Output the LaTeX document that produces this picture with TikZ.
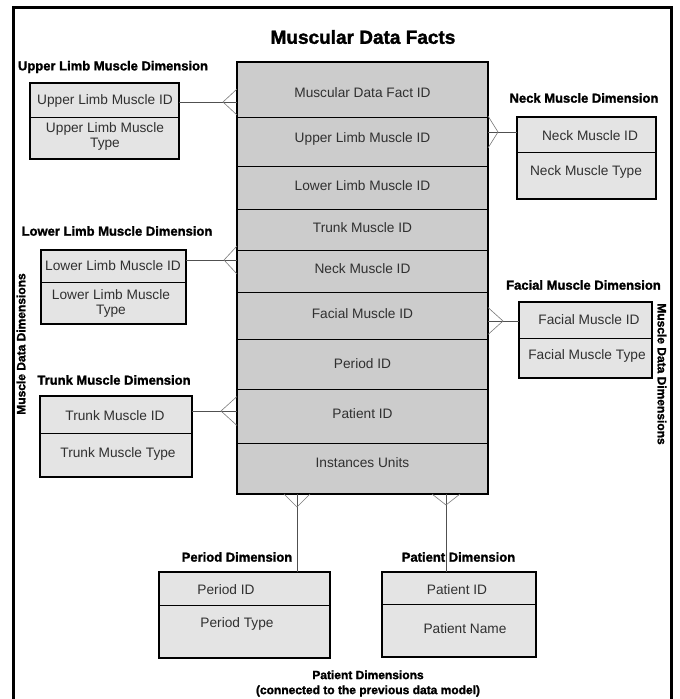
\documentclass[tikz,border=0pt]{standalone}
\usepackage{fontspec}
\setmainfont{Liberation Sans}
\newfontfamily\heavyfont{Liberation Sans Bold}[FakeBold=1.6]
\usetikzlibrary{calc}

\definecolor{factgray}{HTML}{CCCCCC}
\definecolor{dimgray}{HTML}{E4E4E4}
\definecolor{inkgray}{HTML}{303030}
\definecolor{linkgray}{HTML}{505050}
\definecolor{crowgray}{HTML}{7A7A7A}

% crow's foot: #1 point on the table edge, #2 offset of the vertex, #3 half spread
\newcommand\crowfoot[3]{\draw[crowline] ($#1+#3$) -- ($#1+#2$) -- ($#1-#3$);}

\begin{document}
\begin{tikzpicture}[x=1pt,y=-1pt,
  every node/.style={inner sep=0pt, outer sep=0pt},
  factrow/.style={draw=black, line width=0.6pt, fill=factgray, minimum width=251pt, anchor=north west},
  dimrow/.style={draw=black, line width=0.6pt, fill=dimgray, anchor=north west},
  tabborder/.style={draw=black, line width=1.6pt},
  celltext/.style={text=inkgray, font=\fontsize{13.7}{15}\selectfont, align=center},
  dimtitle/.style={font=\heavyfont\fontsize{13}{15}\selectfont},
  captext/.style={font=\heavyfont\fontsize{12}{15}\selectfont, align=center},
  link/.style={draw=linkgray, line width=0.8pt},
  crowline/.style={draw=crowgray, line width=0.6pt},
  frameline/.style={draw=black, line width=3pt}
]
\useasboundingbox (0,0) rectangle (680,699);

% outer frame (open at the bottom)
\draw[frameline] (13,712) -- (13,7) -- (671,7) -- (671,712);

% title
\node[font=\heavyfont\fontsize{19}{22}\selectfont] (title) at (363,37) {Muscular Data Facts};

% ---------- fact table ----------
\node[factrow, minimum height=55pt] (f1) at (237,62) {};
\node[factrow, minimum height=49pt] (f2) at (237,117) {};
\node[factrow, minimum height=43pt] (f3) at (237,166) {};
\node[factrow, minimum height=41pt] (f4) at (237,209) {};
\node[factrow, minimum height=42pt] (f5) at (237,250) {};
\node[factrow, minimum height=47pt] (f6) at (237,292) {};
\node[factrow, minimum height=50pt] (f7) at (237,339) {};
\node[factrow, minimum height=54pt] (f8) at (237,389) {};
\node[factrow, minimum height=51pt] (f9) at (237,443) {};
\draw[tabborder] (f1.north west) rectangle (f9.south east);

\node[celltext] (tf1) at (362.5,93) {Muscular Data Fact ID};
\node[celltext] (tf2) at (362.5,139) {Upper Limb Muscle ID};
\node[celltext] (tf3) at (362.5,186) {Lower Limb Muscle ID};
\node[celltext] (tf4) at (362.5,228) {Trunk Muscle ID};
\node[celltext] (tf5) at (362.5,269) {Neck Muscle ID};
\node[celltext] (tf6) at (362.5,314) {Facial Muscle ID};
\node[celltext] (tf7) at (362.5,364) {Period ID};
\node[celltext] (tf8) at (362.5,414) {Patient ID};
\node[celltext] (tf9) at (362.5,462.5) {Instances Units};

% ---------- upper limb ----------
\node[dimtitle] (ulT) at (113,67) {Upper Limb Muscle Dimension};
\node[dimrow, minimum width=149pt, minimum height=34pt] (ulA) at (30,83) {};
\node[dimrow, minimum width=149pt, minimum height=42pt] (ulB) at (30,117) {};
\draw[tabborder] (ulA.north west) rectangle (ulB.south east);
\node[celltext] (ulAt) at (105,101) {Upper Limb Muscle ID};
\node[celltext] (ulBt) at (105,136) {Upper Limb Muscle\\Type};

% ---------- lower limb ----------
\node[dimtitle] (llT) at (117,231) {Lower Limb Muscle Dimension};
\node[dimrow, minimum width=145pt, minimum height=32pt] (llA) at (41,250) {};
\node[dimrow, minimum width=145pt, minimum height=42pt] (llB) at (41,282) {};
\draw[tabborder] (llA.north west) rectangle (llB.south east);
\node[celltext] (llAt) at (113,266) {Lower Limb Muscle ID};
\node[celltext] (llBt) at (111,303) {Lower Limb Muscle\\Type};

% ---------- trunk ----------
\node[dimtitle] (trT) at (114,380) {Trunk Muscle Dimension};
\node[dimrow, minimum width=152pt, minimum height=37pt] (trA) at (40,396) {};
\node[dimrow, minimum width=152pt, minimum height=44pt] (trB) at (40,433) {};
\draw[tabborder] (trA.north west) rectangle (trB.south east);
\node[celltext] (trAt) at (115,416) {Trunk Muscle ID};
\node[celltext] (trBt) at (118,454) {Trunk Muscle Type};

% ---------- neck ----------
\node[dimtitle] (nkT) at (584,98) {Neck Muscle Dimension};
\node[dimrow, minimum width=139pt, minimum height=35pt] (nkA) at (517,117) {};
\node[dimrow, minimum width=139pt, minimum height=47pt] (nkB) at (517,152) {};
\draw[tabborder] (nkA.north west) rectangle (nkB.south east);
\node[celltext] (nkAt) at (590,136) {Neck Muscle ID};
\node[celltext] (nkBt) at (586,172) {Neck Muscle Type};

% ---------- facial ----------
\node[dimtitle] (fcT) at (583.5,285) {Facial Muscle Dimension};
\node[dimrow, minimum width=133pt, minimum height=36pt] (fcA) at (519,302) {};
\node[dimrow, minimum width=133pt, minimum height=40pt] (fcB) at (519,338) {};
\draw[tabborder] (fcA.north west) rectangle (fcB.south east);
\node[celltext] (fcAt) at (589,320) {Facial Muscle ID};
\node[celltext] (fcBt) at (587,356) {Facial Muscle Type};

% ---------- period ----------
\node[dimtitle] (peT) at (237,557) {Period Dimension};
\node[dimrow, minimum width=171pt, minimum height=33pt] (peA) at (159,572) {};
\node[dimrow, minimum width=171pt, minimum height=53pt] (peB) at (159,605) {};
\draw[tabborder] (peA.north west) rectangle (peB.south east);
\node[celltext] (peAt) at (226,590) {Period ID};
\node[celltext] (peBt) at (237,624) {Period Type};

% ---------- patient ----------
\node[dimtitle] (paT) at (458.5,557) {Patient Dimension};
\node[dimrow, minimum width=154pt, minimum height=32pt] (paA) at (382,572) {};
\node[dimrow, minimum width=154pt, minimum height=53pt] (paB) at (382,604) {};
\draw[tabborder] (paA.north west) rectangle (paB.south east);
\node[celltext] (paAt) at (457,590) {Patient ID};
\node[celltext] (paBt) at (465,629) {Patient Name};

% ---------- side and bottom captions ----------
\node[captext, rotate=90] (sideL) at (21,344) {Muscle Data Dimensions};
\node[captext, rotate=-90] (sideR) at (662,374) {Muscle Data Dimensions};
\node[captext] (bottomCap) at (368,683.5) {Patient Dimensions\\(connected to the previous data model)};

% ---------- connectors ----------
\coordinate (cUL) at ([yshift=-2pt]ulA.east -| f1.west);
\draw[link] ([yshift=-2pt]ulA.east) -- (cUL);
\crowfoot{(cUL)}{(-14,0)}{(0,13)}

\coordinate (cLL) at ([yshift=6pt]llA.east -| f5.west);
\draw[link] ([yshift=6pt]llA.east) -- (cLL);
\crowfoot{(cLL)}{(-13,0)}{(0,14)}

\coordinate (cTR) at ([yshift=3.5pt]trA.east -| f8.west);
\draw[link] ([yshift=3.5pt]trA.east) -- (cTR);
\crowfoot{(cTR)}{(-16,0)}{(0,14.5)}

\coordinate (cNK) at ([yshift=2.5pt]nkA.west -| f2.east);
\draw[link] ([yshift=2.5pt]nkA.west) -- (cNK);
\crowfoot{(cNK)}{(10,0)}{(0,16)}

\coordinate (cFC) at ([yshift=-1pt]fcA.west -| f6.east);
\draw[link] ([yshift=-1pt]fcA.west) -- (cFC);
\crowfoot{(cFC)}{(15,0)}{(0,13.5)}

\coordinate (cPE) at ([xshift=-65.5pt]f9.south);
\draw[link] (cPE) -- (cPE |- peA.north);
\crowfoot{(cPE)}{(0,13)}{(13,0)}

\coordinate (cPA) at ([xshift=83.5pt]f9.south);
\draw[link] (cPA) -- (cPA |- paA.north);
\crowfoot{(cPA)}{(0,11)}{(14,0)}

\end{tikzpicture}
\end{document}
